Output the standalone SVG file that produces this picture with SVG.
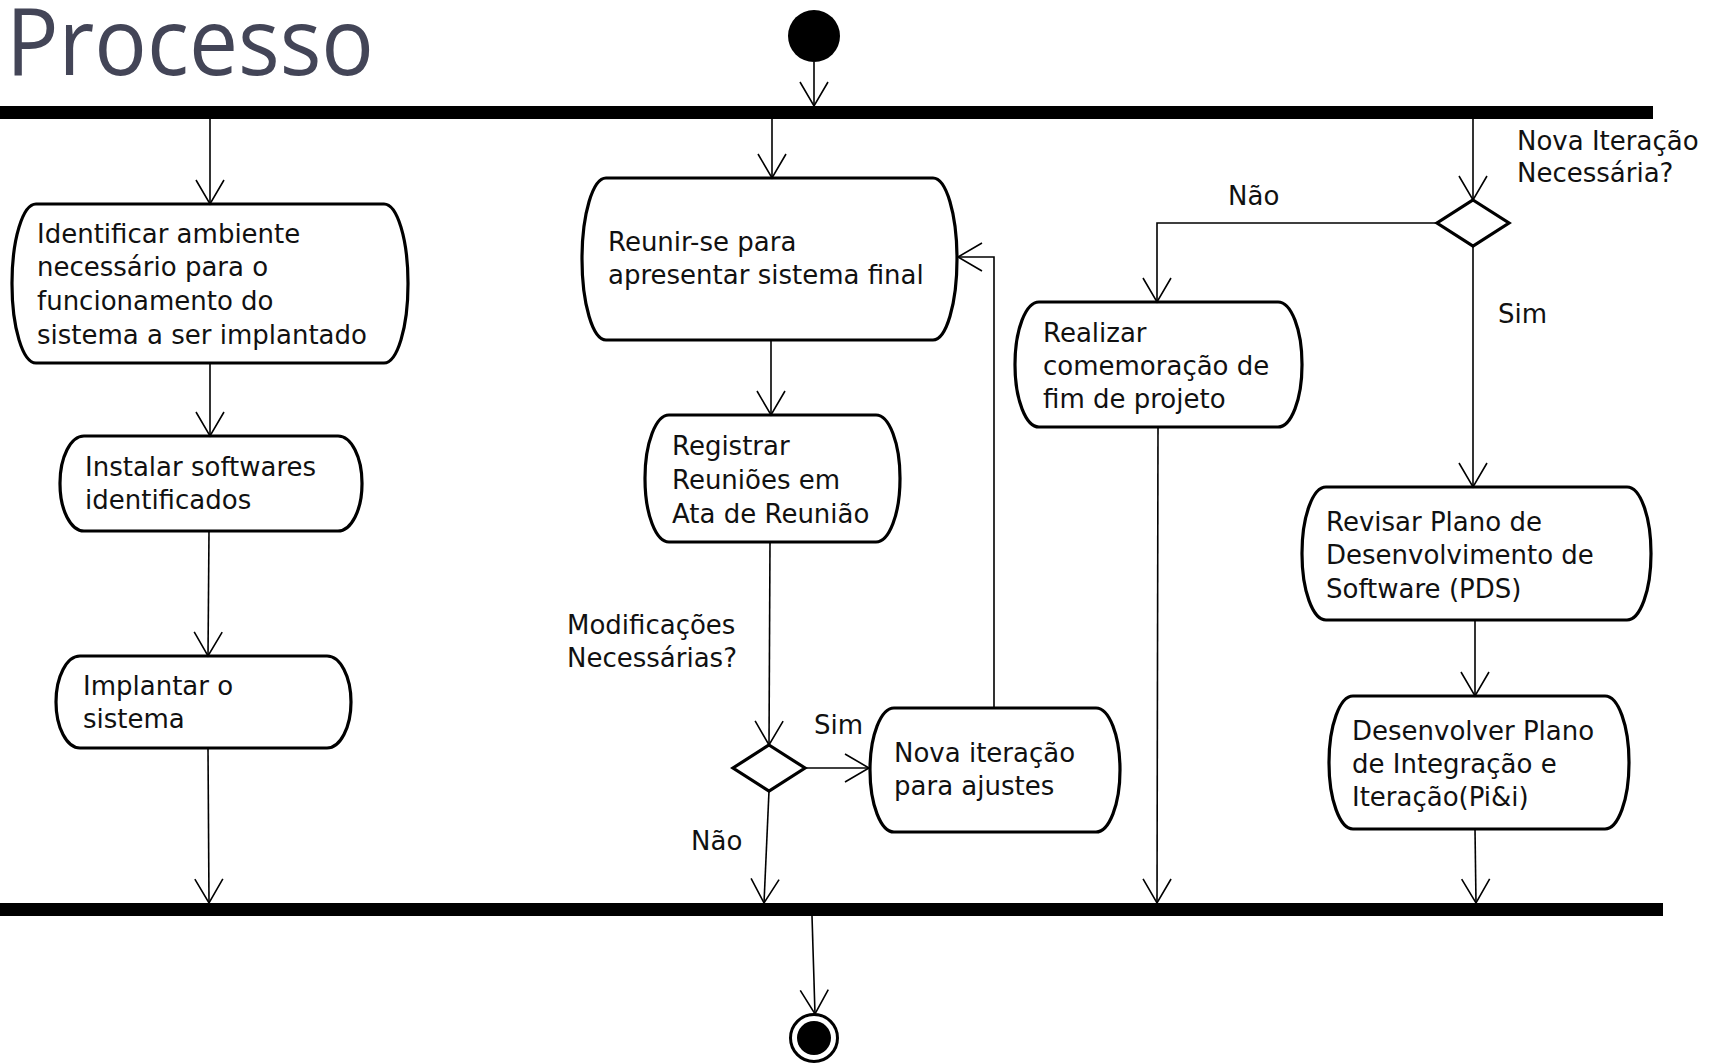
<svg xmlns="http://www.w3.org/2000/svg" width="1712" height="1063" viewBox="0 0 1712 1063">
<defs>
<style>
.node{fill:#fff;stroke:#000;stroke-width:3.2}
.t{font-family:"DejaVu Sans",sans-serif;font-size:26px;fill:#111}
.c{fill:none;stroke:#000;stroke-width:1.6}
.bar{fill:#000}
.title{font-family:"Open Sans","Noto Sans",sans-serif;font-size:94px;fill:#434557}
</style>
<marker id="arr" markerUnits="userSpaceOnUse" markerWidth="40" markerHeight="40" viewBox="-30 -20 40 40" refX="0" refY="0" orient="auto" overflow="visible">
<path d="M-24,-14 L0,0 L-24,14" fill="none" stroke="#000" stroke-width="1.6"/>
</marker>
</defs>
<rect width="1712" height="1063" fill="#fff"/>
<text class="title" x="6" y="75" textLength="368" lengthAdjust="spacingAndGlyphs">Processo</text>

<g id="start"><circle cx="814" cy="36" r="26" fill="#000"/></g>
<g id="fork"><rect class="bar" x="0" y="106" width="1653" height="13"/></g>
<g id="join"><rect class="bar" x="0" y="903" width="1663" height="13"/></g>
<g id="end"><circle cx="814" cy="1038" r="23.5" fill="#fff" stroke="#000" stroke-width="3"/><circle cx="814" cy="1038" r="17" fill="#000"/></g>

<g id="n-identificar">
<rect class="node" x="12" y="204" width="396" height="159" rx="24" ry="79"/>
<text class="t" x="37" y="243">Identificar ambiente</text>
<text class="t" x="37" y="276">necessário para o</text>
<text class="t" x="37" y="310">funcionamento do</text>
<text class="t" x="37" y="344">sistema a ser implantado</text>
</g>
<g id="n-instalar">
<rect class="node" x="60" y="436" width="302" height="95" rx="24" ry="47"/>
<text class="t" x="85" y="476">Instalar softwares</text>
<text class="t" x="85" y="509">identificados</text>
</g>
<g id="n-implantar">
<rect class="node" x="56" y="656" width="295" height="92" rx="24" ry="46"/>
<text class="t" x="83" y="695">Implantar o</text>
<text class="t" x="83" y="728">sistema</text>
</g>
<g id="n-reunir">
<rect class="node" x="582" y="178" width="375" height="162" rx="24" ry="81"/>
<text class="t" x="608" y="251">Reunir-se para</text>
<text class="t" x="608" y="284">apresentar sistema final</text>
</g>
<g id="n-registrar">
<rect class="node" x="645" y="415" width="255" height="127" rx="24" ry="63"/>
<text class="t" x="672" y="455">Registrar</text>
<text class="t" x="672" y="489">Reuniões em</text>
<text class="t" x="672" y="523">Ata de Reunião</text>
</g>
<g id="d-modificacoes">
<polygon class="node" points="769,745 805,768 769,791 733,768"/>
<text class="t" x="567" y="634">Modificações</text>
<text class="t" x="567" y="667">Necessárias?</text>
</g>
<g id="n-nova-iteracao">
<rect class="node" x="870" y="708" width="250" height="124" rx="24" ry="62"/>
<text class="t" x="894" y="762">Nova iteração</text>
<text class="t" x="894" y="795">para ajustes</text>
</g>
<g id="n-realizar">
<rect class="node" x="1015" y="302" width="287" height="125" rx="24" ry="62"/>
<text class="t" x="1043" y="342">Realizar</text>
<text class="t" x="1043" y="375">comemoração de</text>
<text class="t" x="1043" y="408">fim de projeto</text>
</g>
<g id="d-nova-iteracao">
<polygon class="node" points="1473,200 1509,223 1473,246 1437,223"/>
<text class="t" x="1517" y="150">Nova Iteração</text>
<text class="t" x="1517" y="182">Necessária?</text>
</g>
<g id="n-revisar">
<rect class="node" x="1302" y="487" width="349" height="133" rx="24" ry="66"/>
<text class="t" x="1326" y="531">Revisar Plano de</text>
<text class="t" x="1326" y="564">Desenvolvimento de</text>
<text class="t" x="1326" y="598">Software (PDS)</text>
</g>
<g id="n-desenvolver">
<rect class="node" x="1329" y="696" width="300" height="133" rx="24" ry="66"/>
<text class="t" x="1352" y="740">Desenvolver Plano</text>
<text class="t" x="1352" y="773">de Integração e</text>
<text class="t" x="1352" y="806">Iteração(Pi&amp;i)</text>
</g>

<g id="connectors">
<path class="c" d="M814,62 L814,106" marker-end="url(#arr)"/>
<path class="c" d="M210,119 L210,204" marker-end="url(#arr)"/>
<path class="c" d="M210,363 L210,436" marker-end="url(#arr)"/>
<path class="c" d="M209,531 L208,656" marker-end="url(#arr)"/>
<path class="c" d="M208,748 L209,903" marker-end="url(#arr)"/>
<path class="c" d="M772,119 L772,178" marker-end="url(#arr)"/>
<path class="c" d="M771,340 L771,415" marker-end="url(#arr)"/>
<path class="c" d="M770,542 L769,745" marker-end="url(#arr)"/>
<path class="c" d="M805,768 L869,768" marker-end="url(#arr)"/>
<path class="c" d="M769,791 L764,903" marker-end="url(#arr)"/>
<path class="c" d="M994,708 L994,257 L958,257" marker-end="url(#arr)"/>
<path class="c" d="M1473,119 L1473,200" marker-end="url(#arr)"/>
<path class="c" d="M1437,223 L1157,223 L1157,302" marker-end="url(#arr)"/>
<path class="c" d="M1473,246 L1473,487" marker-end="url(#arr)"/>
<path class="c" d="M1475,620 L1475,696" marker-end="url(#arr)"/>
<path class="c" d="M1475,829 L1476,903" marker-end="url(#arr)"/>
<path class="c" d="M1158,427 L1157,903" marker-end="url(#arr)"/>
<path class="c" d="M812,916 L815,1014" marker-end="url(#arr)"/>
<text class="t" x="814" y="734">Sim</text>
<text class="t" x="691" y="850">Não</text>
<text class="t" x="1228" y="205">Não</text>
<text class="t" x="1498" y="323">Sim</text>
</g>
</svg>
